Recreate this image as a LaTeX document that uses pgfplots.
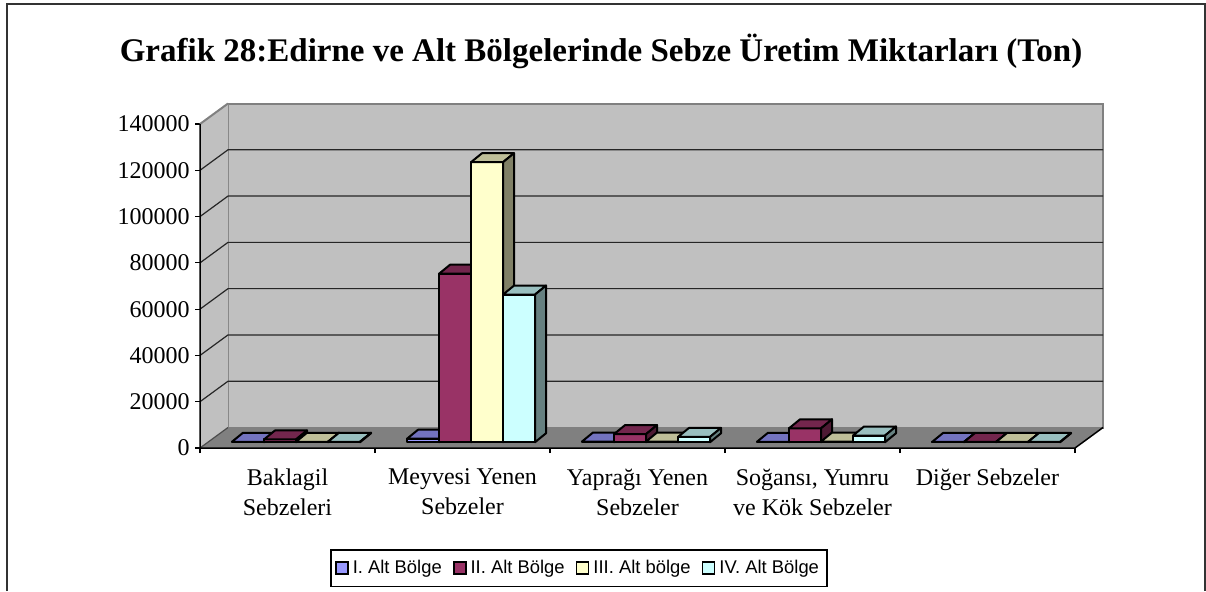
\documentclass[border=0pt]{standalone}
\usepackage{pgfplots}
\pgfplotsset{compat=1.18}
\usepackage{fontspec}
\setmainfont{Liberation Serif}
\newfontfamily\arialf{Liberation Sans}
\definecolor{c1f}{HTML}{9999FF}\definecolor{c1t}{HTML}{7373BF}\definecolor{c1s}{HTML}{4D4D80}
\definecolor{c2f}{HTML}{993366}\definecolor{c2t}{HTML}{73264D}\definecolor{c2s}{HTML}{4D1A33}
\definecolor{c3f}{HTML}{FFFFCC}\definecolor{c3t}{HTML}{BFBF99}\definecolor{c3s}{HTML}{808066}
\definecolor{c4f}{HTML}{CCFFFF}\definecolor{c4t}{HTML}{99BFBF}\definecolor{c4s}{HTML}{668080}
\definecolor{wallc}{HTML}{C0C0C0}
\definecolor{floorc}{HTML}{808080}
\definecolor{edgec}{HTML}{808080}
\definecolor{framec}{HTML}{333333}
% geometry of the pseudo-3D bars (axis units)
\newcommand\bw{0.1829}
\newcommand\ddx{0.0629}
\newcommand\by{2500}
\newcommand\ddy{3889}
\newcommand\cbar[6]{%
 \edef\xa{\fpeval{#1+\bw*(#2+1)}}%
 \edef\xb{\fpeval{\xa+\bw}}%
 \edef\xc{\fpeval{\xa+\ddx}}%
 \edef\xd{\fpeval{\xb+\ddx}}%
 \edef\ya{\by}%
 \edef\yb{\fpeval{\by+#3}}%
 \edef\yc{\fpeval{\yb+\ddy}}%
 \edef\yd{\fpeval{\by+\ddy}}%
 \edef\tmp{%
  \noexpand\addplot[forget plot, fill=#4, draw=black, line width=1pt, line join=round] coordinates {(\xa,\ya) (\xb,\ya) (\xb,\yb) (\xa,\yb)} --cycle;
  \noexpand\addplot[forget plot, fill=#5, draw=black, line width=1pt, line join=round] coordinates {(\xa,\yb) (\xb,\yb) (\xd,\yc) (\xc,\yc)} --cycle;
  \noexpand\addplot[forget plot, fill=#6, draw=black, line width=1pt, line join=round] coordinates {(\xb,\ya) (\xd,\yd) (\xd,\yc) (\xb,\yb)} --cycle;
 }\tmp}
\newcommand\grp[5]{% group index, four values
 \cbar{#1}{0}{#2}{c1f}{c1t}{c1s}%
 \cbar{#1}{1}{#3}{c2f}{c2t}{c2s}%
 \cbar{#1}{2}{#4}{c3f}{c3t}{c3s}%
 \cbar{#1}{3}{#5}{c4f}{c4t}{c4s}}
\begin{document}
\begin{tikzpicture}
\useasboundingbox (0,0) rectangle (603pt,295.5pt);
\draw[color=framec, line width=1pt] (3.35pt,0) -- (3.35pt,293.5pt) -- (603pt,293.5pt);
\draw[color=framec, line width=0.75pt] (602.6pt,0) -- (602.6pt,293.5pt);
\node[font=\bfseries\fontsize{16.5}{19}\selectfont, anchor=base] at (300.5pt,265pt)
  {Grafik 28:Edirne ve Alt Bölgelerinde Sebze Üretim Miktarları (Ton)};
\begin{axis}[
  at={(100pt,71.5pt)}, anchor=south west,
  scale only axis, width=451.5pt, height=172.25pt,
  xmin=0, xmax=5.16, ymin=0, ymax=148858,
  clip=false,
  font=\fontsize{12}{15}\selectfont,
  axis x line=bottom, axis y line=left,
  axis line style={draw=none,-},
  xtick={0,1,2,3,4,5}, xticklabels={},
  ytick={0,20000,40000,60000,80000,100000,120000,140000},
  yticklabels={0,20000,40000,60000,80000,100000,120000,140000},
  scaled y ticks=false,
  tick align=outside, major tick length=2.5pt,
  tick style={black, line width=0.6pt},
  tick label style={font=\fontsize{12}{15}\selectfont},
  yticklabel style={font=\fontsize{12}{15}\selectfont, inner xsep=2.5pt},
  extra x ticks={0.5,1.5,2.5,3.5,4.5},
  extra x tick labels={{Baklagil\\Sebzeleri},{Meyvesi Yenen\\Sebzeler},{Yaprağı Yenen\\Sebzeler},{Soğansı, Yumru\\ve Kök Sebzeler},{Diğer Sebzeler}},
  extra x tick style={major tick length=0pt, tick label style={align=center, font=\fontsize{12}{15}\selectfont, yshift=-7pt}},
  legend columns=4,
  legend style={at={(0.4197,-0.349)}, anchor=center, draw=black, line width=0.6pt,
    font=\arialf\fontsize{9.2}{12}\selectfont, inner xsep=2pt, inner ysep=3pt,
    /tikz/every even column/.append style={column sep=3.5pt}},
  legend cell align=left,
  legend image code/.code={\draw[#1, draw=black, line width=0.9pt] (0pt,-3pt) rectangle (6pt,3pt);},
]
% walls and floor
\addplot[forget plot, fill=wallc, draw=edgec, line width=1pt] coordinates {(0.16,8858) (5.16,8858) (5.16,148858) (0.16,148858)} --cycle;
\addplot[forget plot, fill=wallc, draw=none] coordinates {(0,0) (0.16,8858) (0.16,148858) (0,140000)} --cycle;
\addplot[forget plot, edgec, line width=1pt] coordinates {(0,140000) (0.16,148858)};
\addplot[forget plot, fill=floorc, draw=none] coordinates {(0,0) (5,0) (5.16,8858) (0.16,8858)} --cycle;
% gridlines on side and back walls
\pgfplotsinvokeforeach{20000,40000,60000,80000,100000,120000}{%
  \edef\tmp{\noexpand\addplot[forget plot, black!85, line width=0.6pt] coordinates {(0,#1) (0.16,\fpeval{#1+8858}) (5.16,\fpeval{#1+8858})};}\tmp}
\addplot[forget plot, black!70, line width=0.6pt] coordinates {(0,0) (0.16,8858)};
% front axis lines
\addplot[forget plot, black, line width=0.75pt] coordinates {(0,140000) (0,0) (5,0) (5.16,8858)};
% bars: I, II, III, IV Alt Bölge for each category
\grp{0}{200}{1200}{200}{200}
\grp{1}{1500}{72800}{121000}{63800}
\grp{2}{300}{3500}{300}{2300}
\grp{3}{200}{6000}{300}{2900}
\grp{4}{100}{100}{100}{100}
\addlegendimage{fill=c1f}\addlegendentry{I. Alt Bölge}
\addlegendimage{fill=c2f}\addlegendentry{II. Alt Bölge}
\addlegendimage{fill=c3f}\addlegendentry{III. Alt bölge}
\addlegendimage{fill=c4f}\addlegendentry{IV. Alt Bölge}
\end{axis}
\end{tikzpicture}
\end{document}
